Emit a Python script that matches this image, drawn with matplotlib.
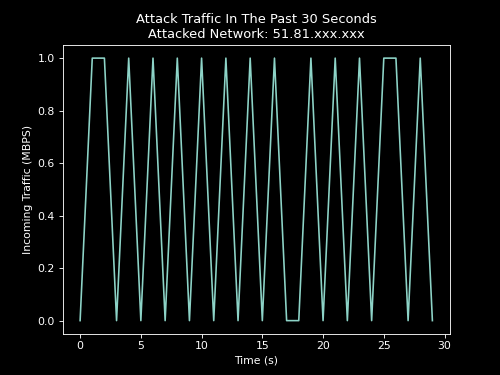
import matplotlib
matplotlib.use("Agg")
import matplotlib.pyplot as plt

seconds = list(range(30))
traffic = [0, 1, 1, 0, 1, 0, 1, 0, 1, 0, 1, 0, 1, 0, 1, 0, 1, 0, 0, 1,
           0, 1, 0, 1, 0, 1, 1, 0, 1, 0]

plt.style.use("dark_background")
fig, ax = plt.subplots(figsize=(6.4, 4.8), dpi=500/6.4)
ax.plot(seconds, traffic, color="#8dd3c7")
ax.set_title("Attack Traffic In The Past 30 Seconds\nAttacked Network: 51.81.xxx.xxx")
ax.set_xlabel("Time (s)")
ax.set_ylabel("Incoming Traffic (MBPS)")
fig.savefig("out.png")
